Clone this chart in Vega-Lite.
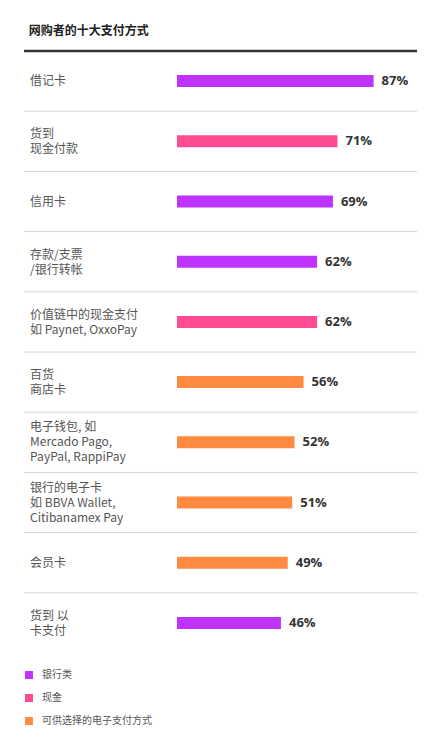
{
  "$schema": "https://vega.github.io/schema/vega-lite/v6.json",
  "autosize": "none",
  "width": 393,
  "height": 602,
  "padding": {"left": 24, "top": 51, "right": 27, "bottom": 95},
  "background": "white",
  "title": {
    "text": "网购者的十大支付方式",
    "font": "Noto Sans CJK SC",
    "fontSize": 12,
    "fontWeight": "bold",
    "color": "#222222",
    "anchor": "start",
    "dx": 6,
    "offset": 12
  },
  "config": {
    "view": {"stroke": null},
    "font": "Noto Sans CJK SC"
  },
  "data": {
    "values": [
      {"rank": 1, "label": "借记卡", "value": 0.87, "type": "银行类"},
      {"rank": 2, "label": "货到\n现金付款", "value": 0.71, "type": "现金"},
      {"rank": 3, "label": "信用卡", "value": 0.69, "type": "银行类"},
      {"rank": 4, "label": "存款/支票\n/银行转帐", "value": 0.62, "type": "银行类"},
      {"rank": 5, "label": "价值链中的现金支付\n如 Paynet, OxxoPay", "value": 0.62, "type": "现金"},
      {"rank": 6, "label": "百货\n商店卡", "value": 0.56, "type": "可供选择的电子支付方式"},
      {"rank": 7, "label": "电子钱包, 如\nMercado Pago,\nPayPal, RappiPay", "value": 0.52, "type": "可供选择的电子支付方式"},
      {"rank": 8, "label": "银行的电子卡\n如 BBVA Wallet,\nCitibanamex Pay", "value": 0.51, "type": "可供选择的电子支付方式"},
      {"rank": 9, "label": "会员卡", "value": 0.49, "type": "可供选择的电子支付方式"},
      {"rank": 10, "label": "货到 以\n 卡支付", "value": 0.46, "type": "银行类"}
    ]
  },
  "encoding": {
    "y": {"field": "rank", "type": "ordinal", "axis": null}
  },
  "layer": [
    {
      "transform": [{"filter": "datum.rank < 10"}],
      "mark": {"type": "rule", "color": "#d4d4d4", "strokeWidth": 1},
      "encoding": {
        "y": {"field": "rank", "type": "ordinal", "bandPosition": 1, "axis": null}
      }
    },
    {
      "transform": [{"filter": "datum.rank == 1"}],
      "mark": {"type": "rule", "color": "#333333", "strokeWidth": 2.5},
      "encoding": {
        "y": {"field": "rank", "type": "ordinal", "bandPosition": 0, "axis": null}
      }
    },
    {
      "mark": {"type": "bar", "height": 12},
      "encoding": {
        "x": {
          "field": "value",
          "type": "quantitative",
          "scale": {"domain": [-0.677, 1.062], "nice": false, "zero": false},
          "axis": null
        },
        "x2": {"datum": 0},
        "color": {
          "field": "type",
          "type": "nominal",
          "scale": {
            "domain": ["银行类", "现金", "可供选择的电子支付方式"],
            "range": ["#bf33ff", "#ff4b91", "#ff8a40"]
          },
          "legend": {
            "title": null,
            "orient": "none",
            "legendX": 0,
            "legendY": 619,
            "symbolType": "square",
            "symbolSize": 64,
            "symbolStrokeWidth": 0,
            "labelFont": "Noto Sans CJK SC",
            "labelFontSize": 10,
            "labelColor": "#555555",
            "labelOffset": 8,
            "rowPadding": 13,
            "padding": 0
          }
        }
      }
    },
    {
      "mark": {
        "type": "text",
        "align": "left",
        "baseline": "middle",
        "dx": 8,
        "font": "Open Sans",
        "fontSize": 13,
        "fontWeight": "bold",
        "color": "#333333"
      },
      "encoding": {
        "x": {"field": "value", "type": "quantitative"},
        "text": {"field": "value", "type": "quantitative", "format": ".0%"}
      }
    },
    {
      "transform": [{"filter": "indexof(datum.label, '\\n') < 0"}],
      "mark": {
        "type": "text",
        "align": "left",
        "baseline": "middle",
        "font": "Noto Sans CJK SC",
        "fontSize": 12,
        "color": "#555555"
      },
      "encoding": {
        "x": {"datum": -0.65},
        "text": {"field": "label"}
      }
    },
    {
      "transform": [{"filter": "length(split(datum.label, '\\n')) == 2"}],
      "mark": {
        "type": "text",
        "align": "left",
        "baseline": "middle",
        "lineBreak": "\n",
        "lineHeight": 15,
        "dy": -7,
        "font": "Noto Sans CJK SC",
        "fontSize": 12,
        "color": "#555555"
      },
      "encoding": {
        "x": {"datum": -0.65},
        "text": {"field": "label"}
      }
    },
    {
      "transform": [{"filter": "length(split(datum.label, '\\n')) == 3"}],
      "mark": {
        "type": "text",
        "align": "left",
        "baseline": "middle",
        "lineBreak": "\n",
        "lineHeight": 15,
        "dy": -15,
        "font": "Noto Sans CJK SC",
        "fontSize": 12,
        "color": "#555555"
      },
      "encoding": {
        "x": {"datum": -0.65},
        "text": {"field": "label"}
      }
    }
  ]
}
